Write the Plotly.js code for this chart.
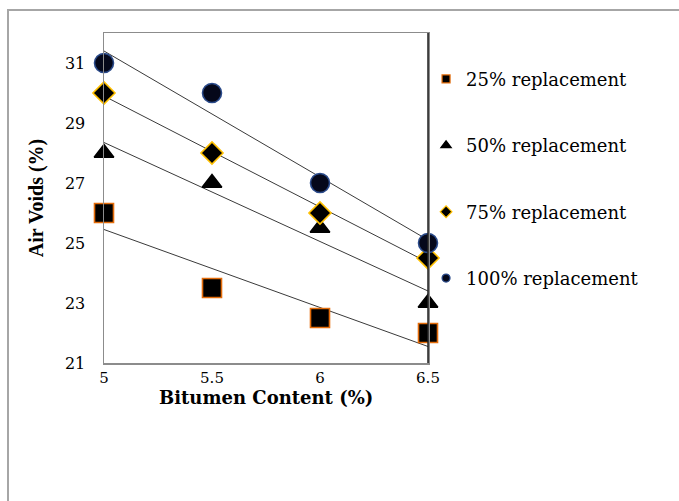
<!DOCTYPE html>
<html>
<head>
<meta charset="utf-8">
<script src="https://cdn.plot.ly/plotly-3.0.1.min.js"></script>
<style>
  html, body { margin: 0; padding: 0; background: #fff; }
  #wrap { position: relative; width: 679px; height: 501px; overflow: hidden; }
  #frame { position: absolute; left: 7px; top: 9px; width: 720px; height: 560px; border: 2px solid #a6a6a6; box-sizing: border-box; }
  #chart { position: absolute; left: 0; top: 0; width: 679px; height: 501px; }
</style>
</head>
<body>
<div id="wrap">
  <div id="frame"></div>
  <div id="chart"></div>
</div>
<script>
// ---- data ----
const bitumenContent = [5, 5.5, 6, 6.5];
const seriesNames = ["25% replacement", "50% replacement", "75% replacement", "100% replacement"];
const airVoids25 = [26, 23.5, 22.5, 22];
const airVoids50 = [28, 27, 25.5, 23];
const airVoids75 = [30, 28, 26, 24.5];
const airVoids100 = [31, 30, 27, 25];
const yTickVals = [21, 23, 25, 27, 29, 31];
const xTickVals = [5, 5.5, 6, 6.5];
const xTitle = "Bitumen Content (%)";
const yTitle = "Air Voids (%)";

// ---- styles ----
const styles = [
  {symbol: "square", size: 19, color: "#000000", line: "#E46C0A", lsize: 8},
  {symbol: "triangle-up", size: 17, color: "#000000", line: "#000000", lsize: 9},
  {symbol: "diamond", size: 17, color: "#000000", line: "#FFC000", lsize: 9},
  {symbol: "circle", size: 19, color: "#05081a", line: "#2a4a8a", lsize: 8}
];
const allSeries = [airVoids25, airVoids50, airVoids75, airVoids100];

function linFit(xs, ys) {
  const n = xs.length;
  const mx = xs.reduce((a, b) => a + b, 0) / n;
  const my = ys.reduce((a, b) => a + b, 0) / n;
  let sxy = 0, sxx = 0;
  for (let i = 0; i < n; i++) { sxy += (xs[i] - mx) * (ys[i] - my); sxx += (xs[i] - mx) ** 2; }
  const b = sxy / sxx;
  return x => my + b * (x - mx);
}

const traces = [];
// trendlines
allSeries.forEach((ys, i) => {
  const f = linFit(bitumenContent, ys);
  const xEnds = [bitumenContent[0], bitumenContent[bitumenContent.length - 1]];
  traces.push({
    x: xEnds, y: xEnds.map(f), mode: "lines", type: "scatter",
    line: {color: "#3a3a3a", width: 1}, showlegend: false, hoverinfo: "skip", cliponaxis: false
  });
});
// markers
allSeries.forEach((ys, i) => {
  const s = styles[i];
  traces.push({
    x: bitumenContent, y: ys, mode: "markers", type: "scatter", name: seriesNames[i],
    marker: {symbol: s.symbol, size: s.size, color: s.color, line: {color: s.line, width: 1.6}},
    showlegend: false, cliponaxis: false
  });
});
// legend entries
allSeries.forEach((ys, i) => {
  const s = styles[i];
  traces.push({
    x: [null], y: [null], mode: "markers", type: "scatter", name: seriesNames[i],
    legendgroup: "g" + i,
    marker: {symbol: s.symbol, size: s.lsize, color: s.color, line: {color: s.line, width: 1.2}},
    showlegend: true
  });
});

const wide = "DejaVu Serif, serif";
const serif = "Liberation Serif, Times New Roman, serif";
const layout = {
  width: 679, height: 501,
  margin: {l: 104, r: 251, t: 33, b: 138},
  paper_bgcolor: "rgba(0,0,0,0)",
  plot_bgcolor: "#ffffff",
  font: {family: wide, color: "#000", size: 16},
  showlegend: true,
  legend: {
    x: 0.994, xanchor: "left", y: 0.916, yanchor: "top",
    traceorder: "grouped", tracegroupgap: 40,
    font: {family: wide, size: 18, color: "#000"},
    bgcolor: "rgba(0,0,0,0)", itemclick: false
  },
  xaxis: {
    range: [5, 6.5], tickvals: xTickVals, ticktext: xTickVals.map(String),
    showgrid: false, zeroline: false, showline: true, mirror: true,
    linecolor: "#8c8c8c", linewidth: 1.5, ticks: "",
    tickfont: {family: wide, size: 15}, ticklabelstandoff: 0,
    automargin: false
  },
  yaxis: {
    range: [21, 32], tickvals: yTickVals, ticktext: yTickVals.map(String),
    showgrid: false, zeroline: false, showline: true, mirror: true,
    linecolor: "#8c8c8c", linewidth: 1.5, ticks: "",
    tickfont: {family: wide, size: 16}, ticklabelstandoff: 14,
    title: {text: "<b>" + yTitle + "</b>", font: {family: serif, size: 20}, standoff: 16},
    automargin: false
  },
  annotations: [
    {text: "<b>" + xTitle + "</b>", xref: "paper", yref: "paper", x: 0.5, y: 0,
     xanchor: "center", yanchor: "middle", yshift: -34, showarrow: false,
     font: {family: wide, size: 18, color: "#000"}}
  ],
  shapes: [
    {type: "line", xref: "paper", yref: "paper", x0: 1, x1: 1, y0: 0, y1: 1,
     line: {color: "#222", width: 1.5}}
  ]
};

Plotly.newPlot("chart", traces, layout, {displayModeBar: false, staticPlot: true});
</script>
</body>
</html>
